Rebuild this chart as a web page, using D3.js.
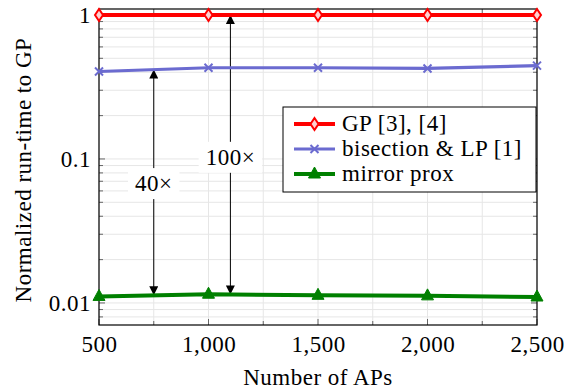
<!DOCTYPE html>
<html>
<head>
<meta charset="utf-8">
<script src="https://cdn.jsdelivr.net/npm/d3@7"></script>
<style>
  body { margin: 0; background: #fff; }
  svg text { fill: #000; letter-spacing: 0.5px; }
</style>
</head>
<body>
<div id="chart"></div>
<script>
// data
var aps = [500, 1000, 1500, 2000, 2500];
var gp = [1, 1, 1, 1, 1];
var bisection = [0.405, 0.43, 0.43, 0.425, 0.445];
var mirror = [0.0111, 0.0115, 0.0113, 0.0112, 0.011];
var seriesNames = ["GP [3], [4]", "bisection & LP [1]", "mirror prox"];
var xTickVals = [500, 1000, 1500, 2000, 2500];
var yTickVals = [1, 0.1, 0.01];
var yTickLabels = ["1", "0.1", "0.01"];

var serif = "'Liberation Serif', 'Times New Roman', Times, 'DejaVu Serif', serif";
var fs = 23;
var width = 569, height = 390;
var mLeft = 99, mRight = 537, mTop = 9, mBottom = 325;

var svg = d3.select("#chart").append("svg")
  .attr("width", width)
  .attr("height", height);

var x = d3.scaleLinear().domain([500, 2500]).range([mLeft, mRight]);
var y = d3.scaleLog().domain([0.00703, 1.1]).range([mBottom, mTop]);

/* grid */
var grid = svg.append("g").attr("class", "grid");
var minorY = [];
[0.001, 0.01, 0.1, 1].forEach(function(p) {
  for (var k = 1; k < 10; k++) {
    var v = +(p * k).toPrecision(3);
    if (v > y.domain()[0] && v < y.domain()[1]) minorY.push(v);
  }
});
grid.selectAll("line.hy")
  .data(minorY).enter()
  .append("line")
  .attr("x1", mLeft).attr("x2", mRight)
  .attr("y1", d => y(d)).attr("y2", d => y(d))
  .attr("stroke", "#e6e6e6").attr("stroke-width", 1);

var xGrid = d3.range(500, 2501, 250);
grid.selectAll("line.vx")
  .data(xGrid).enter()
  .append("line")
  .attr("x1", d => x(d)).attr("x2", d => x(d))
  .attr("y1", mTop).attr("y2", mBottom)
  .attr("stroke", "#e6e6e6").attr("stroke-width", 1);

/* ticks inside the frame */
var ticks = svg.append("g").attr("stroke", "#666").attr("stroke-width", 1);
minorY.forEach(function(v) {
  var len = yTickVals.indexOf(v) >= 0 ? 6 : 4;
  ticks.append("line").attr("x1", mLeft).attr("x2", mLeft + len).attr("y1", y(v)).attr("y2", y(v));
  ticks.append("line").attr("x1", mRight).attr("x2", mRight - len).attr("y1", y(v)).attr("y2", y(v));
});
xGrid.forEach(function(v) {
  var len = xTickVals.indexOf(v) >= 0 ? 6 : 4;
  ticks.append("line").attr("x1", x(v)).attr("x2", x(v)).attr("y1", mBottom).attr("y2", mBottom - len);
  ticks.append("line").attr("x1", x(v)).attr("x2", x(v)).attr("y1", mTop).attr("y2", mTop + len);
});

/* axes */
var xAxis = d3.axisBottom(x).tickValues(xTickVals).tickSize(0).tickPadding(11)
  .tickFormat(d3.format(","));
svg.append("g")
  .attr("transform", `translate(0, ${mBottom})`)
  .call(xAxis)
  .call(g => g.select(".domain").remove())
  .call(g => g.attr("font-family", serif).attr("font-size", fs));

var yAxis = d3.axisLeft(y).tickValues(yTickVals).tickSize(0).tickPadding(8)
  .tickFormat((d, i) => yTickLabels[i]);
svg.append("g")
  .attr("transform", `translate(${mLeft}, 0)`)
  .call(yAxis)
  .call(g => g.select(".domain").remove())
  .call(g => g.attr("font-family", serif).attr("font-size", fs));

/* frame */
svg.append("rect")
  .attr("x", mLeft).attr("y", mTop)
  .attr("width", mRight - mLeft).attr("height", mBottom - mTop)
  .attr("fill", "none").attr("stroke", "#000").attr("stroke-width", 1.2);

/* axis titles */
svg.append("text")
  .attr("x", (mLeft + mRight) / 2).attr("y", 385)
  .attr("text-anchor", "middle").attr("font-size", fs)
  .attr("font-family", serif)
  .text("Number of APs");
svg.append("text")
  .attr("transform", `translate(31, 170) rotate(-90)`)
  .attr("text-anchor", "middle").attr("font-size", fs)
  .attr("font-family", serif)
  .text("Normalized run-time to GP");

/* annotations: double arrows */
var defs = svg.append("defs");
defs.append("marker")
  .attr("id", "ah").attr("viewBox", "0 0 10 10")
  .attr("refX", 10).attr("refY", 5)
  .attr("markerWidth", 9).attr("markerHeight", 9)
  .attr("markerUnits", "userSpaceOnUse")
  .attr("orient", "auto-start-reverse")
  .append("path").attr("d", "M0,0 L10,5 L0,10 z").attr("fill", "#000");

var lineGen = d3.line().x(d => x(d[0])).y(d => y(d[1]));

var annots = [
  { xv: 750, from: 0.418, to: 0.01132, label: "40×", ly: 0.068 },
  { xv: 1100, from: 1, to: 0.01145, label: "100×", ly: 0.1035 }
];
var annG = svg.append("g");

/* series */
var series = [
  { name: seriesNames[0], values: gp, color: "#ff0000", width: 4, marker: "diamond" },
  { name: seriesNames[1], values: bisection, color: "#6b6bd0", width: 3.2, marker: "x" },
  { name: seriesNames[2], values: mirror, color: "#008000", width: 4, marker: "triangle" }
];

function drawMarker(g, type, cx, cy, color) {
  if (type === "diamond") {
    g.append("path")
      .attr("d", `M${cx},${cy - 6} L${cx + 4},${cy} L${cx},${cy + 6} L${cx - 4},${cy} Z`)
      .attr("fill", "#ffd0d0").attr("stroke", color).attr("stroke-width", 2);
  } else if (type === "x") {
    g.append("path")
      .attr("d", `M${cx - 4},${cy - 4} L${cx + 4},${cy + 4} M${cx - 4},${cy + 4} L${cx + 4},${cy - 4}`)
      .attr("stroke", color).attr("stroke-width", 2);
  } else {
    g.append("path")
      .attr("d", `M${cx},${cy - 7} L${cx + 6},${cy + 4} L${cx - 6},${cy + 4} Z`)
      .attr("fill", color).attr("stroke", color).attr("stroke-width", 1);
  }
}

annots.forEach(function(a) {
  annG.append("path")
    .attr("d", lineGen([[a.xv, a.from], [a.xv, a.to]]))
    .attr("stroke", "#000").attr("stroke-width", 1)
    .attr("marker-start", "url(#ah)").attr("marker-end", "url(#ah)");
  var t = annG.append("text")
    .attr("x", x(a.xv)).attr("y", y(a.ly) + 8)
    .attr("text-anchor", "middle").attr("font-size", fs)
    .attr("font-family", serif)
    .text(a.label);
  var bb = t.node().getBBox();
  annG.insert("rect", function() { return t.node(); })
    .attr("x", bb.x - 7).attr("y", bb.y - 3)
    .attr("width", bb.width + 14).attr("height", bb.height + 6)
    .attr("fill", "#fff");
});

series.forEach(function(s) {
  var pts = aps.map((a, i) => [a, s.values[i]]);
  svg.append("path")
    .attr("d", lineGen(pts))
    .attr("fill", "none").attr("stroke", s.color)
    .attr("stroke-width", s.width).attr("stroke-linejoin", "round");
  var g = svg.append("g");
  pts.forEach(p => drawMarker(g, s.marker, x(p[0]), y(p[1]), s.color));
});

/* legend */
var lg = svg.append("g");
lg.append("rect")
  .attr("x", 283).attr("y", 107).attr("width", 253).attr("height", 85)
  .attr("fill", "#fff").attr("stroke", "#000").attr("stroke-width", 1);
series.forEach(function(s, i) {
  var cy = 124 + i * 25;
  lg.append("line")
    .attr("x1", 294).attr("x2", 335).attr("y1", cy).attr("y2", cy)
    .attr("stroke", s.color).attr("stroke-width", s.width);
  drawMarker(lg, s.marker, 314.5, cy, s.color);
  lg.append("text")
    .attr("x", 342).attr("y", cy + 7)
    .attr("font-size", fs)
    .attr("font-family", serif)
    .text(s.name);
});
</script>
</body>
</html>
